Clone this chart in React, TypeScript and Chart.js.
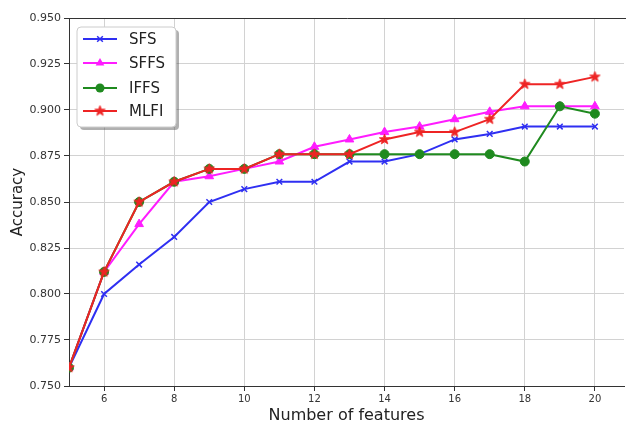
import React, { useEffect, useRef } from 'react';
import { Chart, registerables } from 'chart.js';

Chart.register(...registerables);

const features = [5, 6, 7, 8, 9, 10, 11, 12, 13, 14, 15, 16, 17, 18, 19, 20];
const sfs = [0.760, 0.800, 0.816, 0.831, 0.850, 0.857, 0.861, 0.861, 0.872, 0.872, 0.876, 0.884, 0.887, 0.891, 0.891, 0.891];
const sffs = [0.760, 0.812, 0.838, 0.861, 0.864, 0.868, 0.872, 0.880, 0.884, 0.888, 0.891, 0.895, 0.899, 0.902, 0.902, 0.902];
const iffs = [0.760, 0.812, 0.850, 0.861, 0.868, 0.868, 0.876, 0.876, 0.876, 0.876, 0.876, 0.876, 0.876, 0.872, 0.902, 0.898];
const mlfi = [0.760, 0.812, 0.850, 0.861, 0.868, 0.868, 0.876, 0.876, 0.876, 0.884, 0.888, 0.888, 0.895, 0.914, 0.914, 0.918];

const seriesNames = ['SFS', 'SFFS', 'IFFS', 'MLFI'];
const seriesColors = ['#2f2ff2', '#ff1cff', '#1f8a1f', '#ee2424'];
const seriesMarkers = ['crossRot', 'triangle', 'circle', 'star'];

const xTicks = [6, 8, 10, 12, 14, 16, 18, 20];
const yTicks = [0.75, 0.775, 0.8, 0.825, 0.85, 0.875, 0.9, 0.925, 0.95];

const FONT = 'DejaVu Sans';

function makeStar(color: string, r: number) {
  const size = Math.ceil(r * 2 + 4);
  const c = document.createElement('canvas');
  c.width = size;
  c.height = size;
  const ctx = c.getContext('2d')!;
  const cx = size / 2;
  const cy = size / 2;
  ctx.beginPath();
  for (let i = 0; i < 10; i++) {
    const rad = i % 2 === 0 ? r : r * 0.42;
    const a = -Math.PI / 2 + (i * Math.PI) / 5;
    ctx.lineTo(cx + rad * Math.cos(a), cy + rad * Math.sin(a));
  }
  ctx.closePath();
  ctx.fillStyle = color;
  ctx.fill();
  ctx.lineWidth = 0.8;
  ctx.strokeStyle = color;
  ctx.stroke();
  return c;
}

function drawMarker(ctx: CanvasRenderingContext2D, style: any, x: number, y: number, color: string) {
  ctx.save();
  ctx.fillStyle = color;
  ctx.strokeStyle = color;
  if (style === 'crossRot') {
    const d = 4 * Math.SQRT1_2;
    ctx.lineWidth = 1.5;
    ctx.beginPath();
    ctx.moveTo(x - d, y - d);
    ctx.lineTo(x + d, y + d);
    ctx.moveTo(x - d, y + d);
    ctx.lineTo(x + d, y - d);
    ctx.stroke();
  } else if (style === 'triangle') {
    const r = 5;
    ctx.beginPath();
    let a = 0;
    for (let i = 0; i < 3; i++) {
      ctx.lineTo(x + Math.sin(a) * r, y - Math.cos(a) * r);
      a += (2 * Math.PI) / 3;
    }
    ctx.closePath();
    ctx.fill();
  } else if (style === 'circle') {
    ctx.beginPath();
    ctx.arc(x, y, 4.5, 0, Math.PI * 2);
    ctx.fill();
  } else if (style instanceof HTMLCanvasElement) {
    ctx.drawImage(style, x - style.width / 2, y - style.height / 2);
  }
  ctx.restore();
}

export default function App() {
  const ref = useRef<HTMLCanvasElement | null>(null);

  useEffect(() => {
    const canvas = ref.current;
    if (!canvas) return;
    const star = makeStar(seriesColors[3], 5.5);
    const styles: any[] = [seriesMarkers[0], seriesMarkers[1], seriesMarkers[2], star];
    const values = [sfs, sffs, iffs, mlfi];
    const radii = [4, 5, 4.5, 5];

    const datasets = seriesNames.map((name, i) => ({
      label: name,
      data: features.map((f, j) => ({ x: f, y: values[i][j] })),
      borderColor: seriesColors[i],
      backgroundColor: seriesColors[i],
      borderWidth: 2,
      pointStyle: styles[i],
      pointRadius: radii[i],
      pointBackgroundColor: seriesColors[i],
      pointBorderColor: seriesColors[i],
      pointBorderWidth: i === 0 ? 1.5 : 1,
      tension: 0,
      clip: 0,
      order: 3 - i,
    }));

    const framePlugin = {
      id: 'frame',
      afterDatasetsDraw(chart: any) {
        const { ctx, chartArea } = chart;
        ctx.save();
        ctx.strokeStyle = '#333';
        ctx.lineWidth = 1;
        ctx.beginPath();
        ctx.moveTo(Math.round(chartArea.left), Math.round(chartArea.top) + 0.5);
        ctx.lineTo(chartArea.right + 2, Math.round(chartArea.top) + 0.5);
        ctx.stroke();
        ctx.restore();
      },
      afterDraw(chart: any) {
        const { ctx } = chart;
        const bx = 77, by = 27, bw = 99, bh = 100, rr = 4;
        const rrect = (x: number, y: number, w: number, h: number) => {
          ctx.beginPath();
          ctx.moveTo(x + rr, y);
          ctx.lineTo(x + w - rr, y);
          ctx.quadraticCurveTo(x + w, y, x + w, y + rr);
          ctx.lineTo(x + w, y + h - rr);
          ctx.quadraticCurveTo(x + w, y + h, x + w - rr, y + h);
          ctx.lineTo(x + rr, y + h);
          ctx.quadraticCurveTo(x, y + h, x, y + h - rr);
          ctx.lineTo(x, y + rr);
          ctx.quadraticCurveTo(x, y, x + rr, y);
          ctx.closePath();
        };
        ctx.save();
        rrect(bx + 3, by + 3, bw, bh);
        ctx.fillStyle = 'rgba(80,80,80,0.45)';
        ctx.fill();
        rrect(bx, by, bw, bh);
        ctx.fillStyle = '#ffffff';
        ctx.fill();
        ctx.strokeStyle = '#cccccc';
        ctx.lineWidth = 1;
        ctx.stroke();
        const rows = [39, 63, 88, 111];
        ctx.font = `15px "${FONT}"`;
        ctx.textBaseline = 'middle';
        ctx.textAlign = 'left';
        seriesNames.forEach((name, i) => {
          const y = rows[i];
          ctx.strokeStyle = seriesColors[i];
          ctx.lineWidth = 2;
          ctx.beginPath();
          ctx.moveTo(83, y);
          ctx.lineTo(117, y);
          ctx.stroke();
          drawMarker(ctx, styles[i], 100, y, seriesColors[i]);
          ctx.fillStyle = '#222';
          ctx.fillText(name, 129, y + 1);
        });
        ctx.restore();
      },
    };

    const chart = new Chart(canvas, {
      type: 'line',
      data: { datasets: datasets as any },
      plugins: [framePlugin],
      options: {
        animation: false,
        responsive: false,
        events: [],
        layout: { padding: { top: 18, left: 0, right: 0, bottom: 0 } },
        plugins: {
          legend: { display: false },
          tooltip: { enabled: false },
        },
        scales: {
          x: {
            type: 'linear',
            min: 5,
            max: 20.83,
            afterBuildTicks: (s: any) => {
              s.ticks = xTicks.map((v) => ({ value: v }));
            },
            afterFit: (s: any) => {
              s.height = 38;
              s.paddingLeft = 0;
              s.paddingRight = 0;
            },
            ticks: {
              font: { family: FONT, size: 10 },
              color: '#333',
              padding: 2,
              callback: (v: any) => String(v),
            },
            grid: {
              color: '#d2d2d2',
              lineWidth: 1,
              tickColor: '#333',
              tickLength: 5,
            },
            border: { color: '#333', width: 1 },
            title: {
              display: true,
              text: 'Number of features',
              font: { family: FONT, size: 16, lineHeight: 1 },
              color: '#222',
              padding: { top: 0, bottom: 0 },
            },
          },
          y: {
            type: 'linear',
            min: 0.75,
            max: 0.95,
            afterBuildTicks: (s: any) => {
              s.ticks = yTicks.map((v) => ({ value: v }));
            },
            afterFit: (s: any) => {
              s.width = 69;
              s.paddingTop = 0;
              s.paddingBottom = 0;
            },
            ticks: {
              font: { family: FONT, size: 11 },
              color: '#333',
              padding: 3,
              callback: (v: any) => Number(v).toFixed(3),
            },
            grid: {
              color: '#d2d2d2',
              lineWidth: 1,
              tickColor: '#333',
              tickLength: 5,
            },
            border: { color: '#333', width: 1 },
            title: {
              display: true,
              text: 'Accuracy',
              font: { family: FONT, size: 15, lineHeight: 1.2 },
              color: '#222',
              padding: { top: 9, bottom: 0 },
            },
          },
        },
      },
    });
    return () => chart.destroy();
  }, []);

  return (
    <div
      style={{
        position: 'fixed',
        left: 0,
        top: 0,
        width: 630,
        height: 424,
        overflow: 'hidden',
        background: '#fff',
      }}
    >
      <canvas ref={ref} width={630} height={424} style={{ display: 'block' }} />
    </div>
  );
}
